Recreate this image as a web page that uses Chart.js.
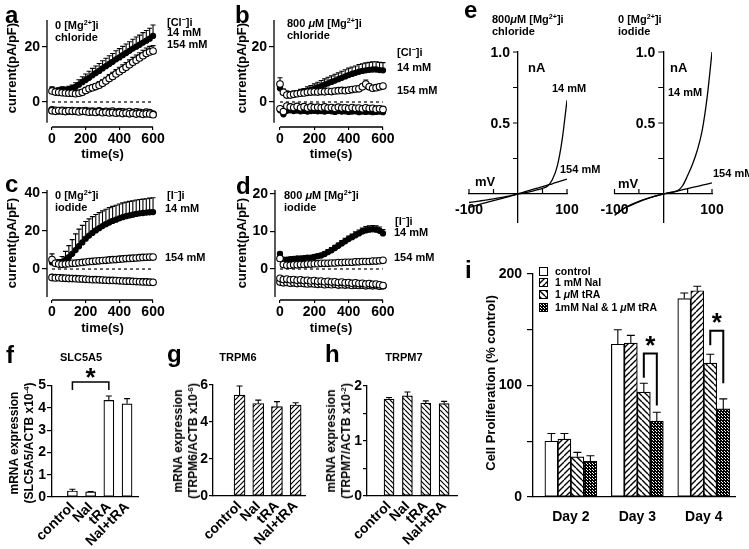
<!DOCTYPE html>
<html>
<head>
<meta charset="utf-8">
<script src="https://cdn.jsdelivr.net/npm/chart.js@4.4.0/dist/chart.umd.min.js"></script>
<style>
  html, body { margin: 0; padding: 0; background: #fff; }
  #fig { position: relative; width: 749px; height: 549px; overflow: hidden; background: #fff;
         font-family: 'Liberation Sans', Arial, sans-serif; color: #000; }
  #fig canvas { position: absolute; left: 0; top: 0; }
  .t { position: absolute; white-space: nowrap; line-height: 1; }
  .t sup { font-size: 0.65em; vertical-align: 0; position: relative; top: -0.55em; line-height: 0; }
  .letter { font-size: 24px; font-weight: bold; line-height: 24px; }
  .ann { font-size: 11px; font-weight: bold; }
  .unit { font-size: 13px; font-weight: bold; }
  .ttl { font-size: 13px; font-weight: bold; }
  .ttl2 { font-size: 12px; font-weight: bold; line-height: 15px; text-align: center; }
  .gene { font-size: 11px; font-weight: bold; }
  .leg { font-size: 10.5px; font-weight: bold; }
</style>
</head>
<body>
<div id="fig"></div>
<script>
// ---------- data ----------
const times = [0, 20, 40, 60, 80, 100, 120, 140, 160, 180, 200, 220, 240, 260, 280, 300,
               320, 340, 360, 380, 400, 420, 440, 460, 480, 500, 520, 540, 560, 580, 600];
const timeTicks = [0, 200, 400, 600];

// a: 0 [Mg2+]i, chloride
const aCl14 = [4.5, 4.0, 4.2, 4.5, 4.3, 4.6, 5.0, 5.5, 6.3, 7.2, 8.0, 8.8, 9.7, 10.5, 11.3, 12.2,
               13.0, 13.8, 14.6, 15.5, 16.2, 17.0, 17.8, 18.6, 19.4, 20.1, 20.8, 21.6, 22.3, 23.0, 24.0];
const aCl14Err = [1.0, 1.0, 1.0, 1.0, 1.1, 1.1, 1.2, 1.5, 1.8, 2.0, 2.2, 2.4, 2.5, 2.6, 2.7, 2.8,
                  2.9, 3.0, 3.0, 3.1, 3.2, 3.2, 3.3, 3.3, 3.4, 3.5, 3.5, 3.6, 3.7, 3.8, 4.0];
const aCl154 = [4.0, 3.6, 3.5, 3.4, 3.3, 3.2, 3.2, 3.0, 3.2, 3.5, 4.2, 4.8, 5.2, 5.6, 6.1, 6.8,
                7.6, 8.5, 9.3, 10.2, 11.0, 11.8, 12.6, 13.5, 14.4, 15.2, 16.0, 16.8, 17.6, 18.2, 18.5];
const aCl154Err = [1.0, 0.8, 0.8, 0.8, 0.8, 0.8, 0.8, 0.8, 0.8, 0.9, 1.0, 1.0, 1.0, 1.1, 1.2, 1.3,
                   1.4, 1.5, 1.5, 1.6, 1.6, 1.7, 1.7, 1.8, 1.8, 1.9, 1.9, 2.0, 2.0, 2.0, 2.0];
const aClIn1 = [-3.2, -3.4, -3.1, -3.3, -3.5, -3.2, -3.4, -3.3, -3.6, -3.4, -3.5, -3.7, -3.6, -3.8, -3.5, -3.9,
                -3.7, -4.0, -3.8, -4.1, -3.9, -4.2, -4.0, -4.3, -4.1, -4.4, -4.2, -4.5, -4.3, -4.4, -4.6];
const aClIn2 = [-2.9, -3.0, -3.2, -3.0, -3.1, -3.3, -3.1, -3.4, -3.2, -3.3, -3.1, -3.4, -3.3, -3.5, -3.2, -3.6,
                -3.4, -3.5, -3.3, -3.7, -3.5, -3.6, -3.8, -3.5, -3.9, -3.6, -3.8, -4.0, -3.7, -3.9, -4.4];

// b: 800 uM [Mg2+]i, chloride
const bCl14 = [5.0, 3.5, 3.0, 2.8, 3.0, 3.2, 3.4, 3.6, 4.0, 4.4, 4.8, 5.3, 5.8, 6.3, 6.8, 7.3,
               7.8, 8.3, 8.8, 9.3, 9.8, 10.2, 10.6, 11.0, 11.3, 11.5, 11.7, 11.8, 11.8, 11.6, 11.5];
const bCl14Err = [1.5, 1.2, 1.0, 1.0, 1.0, 1.0, 1.2, 1.3, 1.5, 1.6, 1.8, 1.9, 2.0, 2.1, 2.2, 2.2,
                  2.3, 2.3, 2.4, 2.4, 2.5, 2.5, 2.5, 2.6, 2.6, 2.7, 2.7, 2.8, 2.8, 2.8, 2.8];
const bCl154 = [6.5, 3.5, 2.5, 2.5, 2.8, 3.0, 3.2, 3.3, 3.5, 3.6, 3.7, 3.6, 3.8, 3.7, 3.9, 3.8,
                4.0, 4.1, 4.2, 4.1, 4.3, 4.5, 4.7, 4.8, 5.5, 6.5, 5.5, 5.0, 5.2, 5.5, 5.8];
const bCl154Err = [2.3, 1.0, 0.8, 0.7, 0.7, 0.7, 0.7, 0.7, 0.7, 0.7, 0.7, 0.7, 0.7, 0.7, 0.7, 0.7,
                   0.7, 0.7, 0.8, 0.8, 0.8, 0.8, 0.9, 0.9, 1.0, 1.5, 1.0, 0.8, 0.8, 0.8, 0.8];
const bClIn1 = [-2.5, -3.5, -1.5, -1.8, -2.0, -1.6, -2.1, -1.7, -2.2, -1.8, -2.0, -1.9, -2.1, -1.8, -2.2, -2.0,
                -2.3, -1.9, -2.2, -2.1, -2.4, -2.0, -2.3, -2.2, -2.5, -2.1, -2.4, -2.3, -2.6, -2.5, -2.7];
const bClIn2 = [-3.0, -4.5, -3.2, -3.0, -3.3, -3.1, -3.4, -3.2, -3.5, -3.3, -3.2, -3.4, -3.3, -3.5, -3.2, -3.4,
                -3.6, -3.3, -3.5, -3.4, -3.6, -3.5, -3.4, -3.7, -3.5, -3.6, -3.5, -3.7, -3.6, -3.5, -3.7];

// c: 0 [Mg2+]i, iodide
const cI14 = [3.5, 3.0, 3.0, 3.6, 4.8, 6.3, 8.0, 10.0, 12.0, 14.0, 16.0, 17.6, 19.0, 20.3, 21.5, 22.6,
              23.6, 24.5, 25.3, 26.0, 26.7, 27.3, 27.8, 28.2, 28.6, 29.0, 29.3, 29.5, 29.7, 29.9, 30.0];
const cI14Err = [1.0, 1.5, 2.0, 3.0, 4.5, 6.0, 7.5, 8.5, 9.0, 9.0, 9.0, 8.8, 8.6, 8.4, 8.2, 8.0,
                 7.9, 7.8, 7.7, 7.6, 7.5, 7.5, 7.4, 7.4, 7.3, 7.3, 7.3, 7.3, 7.3, 7.4, 7.5];
const cI154 = [5.0, 3.0, 2.6, 2.5, 2.6, 2.8, 3.0, 3.1, 3.3, 3.5, 3.7, 3.9, 4.0, 4.2, 4.3, 4.5,
               4.6, 4.8, 4.9, 5.0, 5.2, 5.3, 5.5, 5.6, 5.7, 5.8, 6.0, 6.1, 6.2, 6.3, 6.3];
const cI154Err = [3.0, 0.8, 0.6, 0.6, 0.6, 0.6, 0.6, 0.6, 0.6, 0.6, 0.7, 0.7, 0.7, 0.7, 0.7, 0.7,
                  0.8, 0.8, 0.8, 0.8, 0.8, 0.8, 0.9, 0.9, 0.9, 0.9, 0.9, 1.0, 1.0, 1.0, 1.0];
const cIIn1 = [-4.0, -4.2, -4.3, -4.4, -4.5, -4.6, -4.7, -4.8, -4.9, -5.0, -5.1, -5.2, -5.3, -5.4, -5.5, -5.6,
               -5.7, -5.8, -5.9, -6.0, -6.0, -6.1, -6.2, -6.3, -6.4, -6.5, -6.5, -6.6, -6.7, -6.8, -6.8];
const cIIn2 = [-4.5, -4.7, -4.6, -4.8, -4.9, -5.0, -5.0, -5.1, -5.2, -5.3, -5.4, -5.5, -5.6, -5.6, -5.7, -5.8,
               -5.9, -6.0, -6.0, -6.1, -6.2, -6.3, -6.4, -6.4, -6.5, -6.6, -6.7, -6.8, -6.8, -6.9, -7.0];

// d: 800 uM [Mg2+]i, iodide
const dI14 = [4.0, 2.5, 2.5, 2.6, 2.7, 2.8, 2.8, 2.9, 3.0, 3.0, 3.2, 3.4, 3.6, 4.0, 4.5, 5.0,
              5.6, 6.2, 6.8, 7.4, 8.0, 8.5, 9.0, 9.5, 10.0, 10.3, 10.5, 10.6, 10.5, 10.2, 9.5];
const dI14Err = [0.5, 0.5, 0.5, 0.5, 0.5, 0.5, 0.5, 0.5, 0.5, 0.5, 0.6, 0.6, 0.6, 0.6, 0.7, 0.7,
                 0.7, 0.7, 0.8, 0.8, 0.8, 0.8, 0.9, 0.9, 0.9, 1.0, 1.0, 1.0, 1.0, 1.0, 1.0];
const dI154 = [2.8, 1.2, 1.0, 1.0, 1.1, 1.1, 1.2, 1.2, 1.3, 1.3, 1.4, 1.4, 1.5, 1.5, 1.5, 1.6,
               1.6, 1.7, 1.7, 1.8, 1.8, 1.8, 1.9, 1.9, 2.0, 2.0, 2.0, 2.1, 2.1, 2.2, 2.3];
const dIIn1 = [-2.5, -2.8, -2.7, -2.9, -2.8, -3.0, -2.9, -3.1, -3.0, -3.2, -3.1, -3.3, -3.2, -3.4, -3.3, -3.5,
               -3.4, -3.6, -3.5, -3.7, -3.6, -3.8, -3.7, -3.9, -3.8, -4.0, -3.9, -4.1, -4.0, -4.2, -4.4];
const dIIn2 = [-3.5, -3.7, -3.6, -3.8, -3.7, -3.9, -3.8, -3.9, -4.0, -3.9, -4.0, -4.1, -4.0, -4.2, -4.1, -4.2,
               -4.1, -4.3, -4.2, -4.3, -4.2, -4.4, -4.3, -4.4, -4.3, -4.5, -4.4, -4.5, -4.4, -4.6, -4.5];

// e: I-V curves (mV, nA)
const mv = [-100, -90, -80, -70, -60, -50, -40, -30, -20, -10, 0, 10, 20, 30, 40, 50, 60, 70, 80, 90, 100];
const eCl14 = [-0.060, -0.055, -0.050, -0.045, -0.040, -0.034, -0.028, -0.022, -0.015, -0.008, 0.000,
               0.006, 0.013, 0.020, 0.030, 0.040, 0.055, 0.100, 0.195, 0.380, 0.660];
const eCl154 = [-0.095, -0.085, -0.075, -0.065, -0.056, -0.047, -0.038, -0.029, -0.020, -0.010, 0.002,
                0.012, 0.022, 0.032, 0.042, 0.052, 0.062, 0.072, 0.083, 0.094, 0.105];
const eI14 = [-0.150, -0.125, -0.100, -0.082, -0.066, -0.052, -0.040, -0.029, -0.019, -0.009, 0.000,
              0.007, 0.014, 0.024, 0.060, 0.130, 0.210, 0.310, 0.450, 0.680, 1.000];
const eI154 = [-0.150, -0.125, -0.100, -0.085, -0.070, -0.055, -0.041, -0.029, -0.018, -0.008, 0.000,
               0.008, 0.015, 0.022, 0.030, 0.038, 0.046, 0.054, 0.062, 0.070, 0.078];
const ivXTicks = [-100, -50, 50, 100];
const ivYTicks = [0.25, 0.5, 0.75, 1.0];

// f, g, h: mRNA expression
const treatments = ['control', 'NaI', 'tRA', 'NaI+tRA'];
const treatmentPos = [1, 2, 3, 4];
const fVals = [0.27, 0.23, 4.33, 4.18];
const fErr = [0.08, 0.02, 0.20, 0.23];
const gVals = [5.45, 5.00, 4.83, 4.92];
const gErr = [0.50, 0.18, 0.27, 0.12];
const hVals = [1.76, 1.82, 1.69, 1.68];
const hErr = [0.03, 0.07, 0.04, 0.04];
const fTicks = [0, 1, 2, 3, 4, 5];
const gTicks = [0, 2, 4, 6];
const hTicks = [0, 0.5, 1, 1.5, 2];

// i: cell proliferation
const days = ['Day 2', 'Day 3', 'Day 4'];
const dayPos = [2, 3, 4];
const iNames = ['control', '1 mM NaI', '1 μM tRA', '1mM NaI & 1 μM tRA'];
const iControl = [50, 137, 178];
const iControlErr = [7, 13, 5];
const iNaI = [52, 138, 185];
const iNaIErr = [5, 7, 4];
const iTRA = [36, 94, 120];
const iTRAErr = [4, 8, 8];
const iCombo = [32, 68, 79];
const iComboErr = [5, 8, 9];
const iTicks = [0, 50, 100, 150, 200];

// ---------- page setup ----------
const W = 749, H = 549;
const FONT = "'Liberation Sans', Arial, sans-serif";
const fig = document.getElementById('fig');

Chart.defaults.font.family = FONT;
Chart.defaults.font.size = 14;
Chart.defaults.font.weight = 'bold';
Chart.defaults.color = '#000';
Chart.defaults.animation = false;
Chart.defaults.responsive = false;
Chart.defaults.events = [];
Chart.defaults.plugins.legend.display = false;
Chart.defaults.plugins.tooltip.enabled = false;

function addCanvas() {
  const c = document.createElement('canvas');
  c.width = W; c.height = H;
  fig.appendChild(c);
  return c.getContext('2d');
}

// layout padding so that the chart area lands on a given pixel box
function pad(area, yW, xH) {
  return {left: area.l - yW, top: area.t, right: W - area.r, bottom: H - area.b - xH};
}

// ---------- plugins ----------
const errorBars = {
  id: 'errorBars',
  beforeDatasetsDraw(chart, args, o) {
    const ctx = chart.ctx, y = chart.scales.y;
    ctx.save();
    ctx.strokeStyle = '#000';
    ctx.lineWidth = o.width || 1.1;
    chart.data.datasets.forEach((ds, i) => {
      if (!ds.err) return;
      chart.getDatasetMeta(i).data.forEach((el, j) => {
        const top = y.getPixelForValue(ds.data[j].y + ds.err[j]);
        ctx.beginPath();
        ctx.moveTo(el.x, el.y);
        ctx.lineTo(el.x, top);
        ctx.moveTo(el.x - o.cap, top);
        ctx.lineTo(el.x + o.cap, top);
        ctx.stroke();
      });
    });
    ctx.restore();
  }
};

const zeroLine = {
  id: 'zeroLine',
  beforeDatasetsDraw(chart, args, o) {
    const {x, y} = chart.scales, ctx = chart.ctx;
    const py = y.getPixelForValue(0);
    ctx.save();
    ctx.strokeStyle = '#000';
    ctx.lineWidth = 1.2;
    ctx.setLineDash([3, 3]);
    ctx.beginPath();
    ctx.moveTo(x.getPixelForValue(o.from), py);
    ctx.lineTo(x.getPixelForValue(o.to), py);
    ctx.stroke();
    ctx.restore();
  }
};

// detached axis lines (Igor style)
const axisLines = {
  id: 'axisLines',
  afterDraw(chart, args, o) {
    const {x, y} = chart.scales, a = chart.chartArea, ctx = chart.ctx;
    ctx.save();
    ctx.strokeStyle = '#000';
    ctx.lineWidth = 1.3;
    ctx.beginPath();
    ctx.moveTo(a.left, y.getPixelForValue(o.y[0]));
    ctx.lineTo(a.left, y.getPixelForValue(o.y[1]));
    ctx.moveTo(x.getPixelForValue(o.x[0]), a.bottom);
    ctx.lineTo(x.getPixelForValue(o.x[1]), a.bottom);
    ctx.stroke();
    ctx.restore();
  }
};

// ticks and current labels for the crossing I-V axes:
// voltage ticks point up, current ticks point left with their labels beside them
const ivTicks = {
  id: 'ivTicks',
  afterDraw(chart, args, o) {
    const {x, y} = chart.scales, ctx = chart.ctx;
    const py = y.getPixelForValue(0), px0 = x.getPixelForValue(0);
    ctx.save();
    ctx.strokeStyle = '#000';
    ctx.fillStyle = '#000';
    ctx.lineWidth = 1.2;
    ctx.beginPath();
    o.x.forEach(v => {
      const px = x.getPixelForValue(v);
      ctx.moveTo(px, py);
      ctx.lineTo(px, py - o.len);
    });
    o.y.forEach(v => {
      const p = y.getPixelForValue(v);
      ctx.moveTo(px0, p);
      ctx.lineTo(px0 - o.len, p);
    });
    ctx.stroke();
    ctx.font = 'bold 14px ' + FONT;
    ctx.textAlign = 'right';
    ctx.textBaseline = 'middle';
    o.y.forEach(v => {
      const label = o.label(v);
      if (label) ctx.fillText(label, px0 - o.len - 3, y.getPixelForValue(v) + 1);
    });
    ctx.restore();
  }
};

const brackets = {
  id: 'brackets',
  afterDatasetsDraw(chart, args, o) {
    if (!o.items || !o.items.length) return;
    const ctx = chart.ctx, y = chart.scales.y;
    ctx.save();
    ctx.strokeStyle = '#000';
    ctx.fillStyle = '#000';
    ctx.lineWidth = o.width || 1.6;
    o.items.forEach(b => {
      const p1 = chart.getDatasetMeta(b.from[0]).data[b.from[1]];
      const p2 = chart.getDatasetMeta(b.to[0]).data[b.to[1]];
      const top = y.getPixelForValue(b.top);
      ctx.beginPath();
      ctx.moveTo(p1.x, y.getPixelForValue(b.legs[0]));
      ctx.lineTo(p1.x, top);
      ctx.lineTo(p2.x, top);
      ctx.lineTo(p2.x, y.getPixelForValue(b.legs[1]));
      ctx.stroke();
      ctx.font = 'bold 26px ' + FONT;
      ctx.textAlign = 'center';
      ctx.textBaseline = 'middle';
      ctx.fillText('*', (p1.x + p2.x) / 2, y.getPixelForValue(b.star) + 6);
    });
    ctx.restore();
  }
};

// ---------- fill patterns ----------
function hatch(size, dir, lw) {
  const c = document.createElement('canvas');
  c.width = c.height = size;
  const g = c.getContext('2d');
  g.fillStyle = '#fff';
  g.fillRect(0, 0, size, size);
  g.strokeStyle = '#000';
  g.lineWidth = lw;
  g.beginPath();
  for (let k = -1; k <= 1; k++) {
    if (dir === '/') { g.moveTo(k * size, size); g.lineTo(k * size + size, 0); }
    else { g.moveTo(k * size, 0); g.lineTo(k * size + size, size); }
  }
  g.stroke();
  return g.createPattern(c, 'repeat');
}
function checker() {
  const c = document.createElement('canvas');
  c.width = c.height = 3;
  const g = c.getContext('2d');
  g.fillStyle = '#000';
  g.fillRect(0, 0, 3, 3);
  g.fillStyle = '#fff';
  g.fillRect(1, 1, 1, 1);
  g.fillRect(2, 2, 1, 1);
  return g.createPattern(c, 'repeat');
}

// ---------- chart builders ----------
function timeChart(p) {
  const sets = p.series.map(s => ({
    data: times.map((t, i) => ({x: t, y: s.vals[i]})),
    err: s.err || null,
    pointRadius: s.filled ? 2.6 : 3.3,
    pointBorderWidth: 1.1,
    pointBackgroundColor: s.filled ? '#000' : '#fff',
    borderColor: '#000',
    clip: false
  }));
  new Chart(addCanvas(), {
    type: 'scatter',
    data: {datasets: sets},
    options: {
      devicePixelRatio: 1,
      layout: {padding: pad(p.area, 40, 40)},
      scales: {
        x: {
          type: 'linear', min: p.x[0], max: p.x[1],
          afterFit: s => { s.height = 40; },
          afterBuildTicks: s => { s.ticks = timeTicks.map(v => ({value: v})); },
          grid: {drawOnChartArea: false, tickLength: 3, color: '#000', lineWidth: 1.2},
          border: {display: false},
          ticks: {padding: 1, maxRotation: 0, autoSkip: false}
        },
        y: {
          type: 'linear', min: p.y[0], max: p.y[1],
          afterFit: s => { s.width = 40; },
          afterBuildTicks: s => { s.ticks = p.yTicks.map(v => ({value: v})); },
          grid: {drawOnChartArea: false, tickLength: 5, color: '#000', lineWidth: 1.2},
          border: {display: false},
          ticks: {padding: 2}
        }
      },
      plugins: {
        axisLines: {x: [0, 600], y: p.yLine},
        zeroLine: {from: 0, to: 600},
        errorBars: {cap: 2.5}
      }
    },
    plugins: [zeroLine, errorBars, axisLines]
  });
}

function ivChart(p) {
  new Chart(addCanvas(), {
    type: 'line',
    data: {
      datasets: p.curves.map(c => ({
        data: mv.map((v, i) => ({x: v, y: c[i]})),
        borderColor: '#000', borderWidth: 1.3, pointRadius: 0,
        cubicInterpolationMode: 'monotone', fill: false
      }))
    },
    options: {
      devicePixelRatio: 1,
      layout: {padding: pad(p.area, 0, 0)},
      scales: {
        x: {
          type: 'linear', position: {y: 0}, min: -100, max: 100,
          afterBuildTicks: s => { s.ticks = ivXTicks.map(v => ({value: v})); },
          grid: {display: false, drawTicks: false},
          border: {color: '#000', width: 1.3},
          ticks: {padding: 8, maxRotation: 0, autoSkip: false,
                  callback: v => Math.abs(v) === 100 ? String(v) : ''}
        },
        y: {
          type: 'linear', position: {x: 0}, min: -0.2, max: 1.0,
          afterBuildTicks: s => { s.ticks = ivYTicks.map(v => ({value: v})); },
          grid: {display: false, drawTicks: false},
          border: {color: '#000', width: 1.3},
          ticks: {display: false}
        }
      },
      plugins: {ivTicks: {x: ivXTicks, y: ivYTicks, len: 5,
                          label: v => (v === 0.5 || v === 1) ? v.toFixed(1) : ''}}
    },
    plugins: [ivTicks]
  });
}

function barChart(p) {
  new Chart(addCanvas(), {
    type: 'bar',
    data: {
      datasets: p.sets.map(s => ({
        data: p.xs.map((x, i) => ({x, y: s.vals[i]})),
        err: s.err,
        backgroundColor: s.fill,
        borderColor: '#000',
        borderWidth: 1.2,
        borderSkipped: false,
        barThickness: p.thick
      }))
    },
    options: {
      devicePixelRatio: 1,
      layout: {padding: pad(p.area, 40, 50)},
      scales: {
        x: {
          type: 'linear', offset: false, min: p.x[0], max: p.x[1],
          afterFit: s => { s.height = 50; },
          afterBuildTicks: s => { s.ticks = p.xs.map(v => ({value: v})); },
          grid: {display: false, drawTicks: false, offset: false},
          border: {display: true, color: '#000', width: 1.3},
          ticks: {callback: (v, i) => p.labels[i], minRotation: p.rot, maxRotation: p.rot,
                  padding: p.xPad, autoSkip: false}
        },
        y: {
          type: 'linear', min: p.y[0], max: p.y[1],
          afterFit: s => { s.width = 40; },
          afterBuildTicks: s => { s.ticks = p.yTicks.map(v => ({value: v})); },
          grid: {drawOnChartArea: false, tickLength: p.tl, color: '#000', lineWidth: 1.2},
          border: {display: true, color: '#000', width: 1.3},
          ticks: {padding: p.yPad, callback: p.yLabel || (v => String(v))}
        }
      },
      plugins: {
        errorBars: {cap: p.cap},
        brackets: {items: p.brackets || [], width: p.bracketWidth}
      }
    },
    plugins: [errorBars, brackets]
  });
}

// ---------- panels a-d ----------
timeChart({area: {l: 47, r: 156.4, t: 20, b: 127}, x: [-29.7, 620], y: [-9.09, 29.8],
  yTicks: [0, 20], yLine: [-7.5, 29.8],
  series: [{vals: aClIn1}, {vals: aClIn2}, {vals: aCl154, err: aCl154Err},
           {vals: aCl14, err: aCl14Err, filled: true}]});
timeChart({area: {l: 274, r: 386.4, t: 20, b: 127}, x: [-35, 620], y: [-9.09, 29.8],
  yTicks: [0, 20], yLine: [-7.5, 29.8],
  series: [{vals: bClIn1}, {vals: bClIn2, filled: true}, {vals: bCl154, err: bCl154Err},
           {vals: bCl14, err: bCl14Err, filled: true}]});
timeChart({area: {l: 47, r: 156.4, t: 190, b: 300}, x: [-29.7, 620], y: [-16.3, 41.6],
  yTicks: [0, 20, 40], yLine: [-14.7, 41.6],
  series: [{vals: cIIn2}, {vals: cIIn1, filled: true}, {vals: cI154, err: cI154Err},
           {vals: cI14, err: cI14Err, filled: true}]});
timeChart({area: {l: 275, r: 386.4, t: 190, b: 300}, x: [-29, 620], y: [-8.27, 21.07],
  yTicks: [0, 10, 20], yLine: [-7.5, 21.07],
  series: [{vals: dIIn1}, {vals: dIIn2}, {vals: dI154},
           {vals: dI14, err: dI14Err, filled: true}]});

// ---------- panel e ----------
ivChart({area: {l: 469, r: 567, t: 52, b: 222.4}, curves: [eCl14, eCl154]});
ivChart({area: {l: 614.5, r: 712, t: 52, b: 222.4}, curves: [eI14, eI154]});

// ---------- panels f-h ----------
const pSlash5 = hatch(5, '/', 1.2);
const pBack5 = hatch(5, '\\', 1.2);
barChart({area: {l: 52, r: 138, t: 385.5, b: 497}, x: [-0.12, 4.6], y: [0, 5],
  xs: treatmentPos, labels: treatments, rot: 45, xPad: 2, yTicks: fTicks, tl: 5, yPad: 1,
  thick: 10, cap: 3, sets: [{vals: fVals, err: fErr, fill: '#fff'}],
  brackets: [{from: [0, 0], to: [0, 2], top: 5.16, legs: [4.8, 4.8], star: 5.56}], bracketWidth: 1.5});
barChart({area: {l: 213, r: 305, t: 385, b: 496}, x: [-0.42, 4.5], y: [0, 6],
  xs: treatmentPos, labels: treatments, rot: 45, xPad: 2, yTicks: gTicks, tl: 4, yPad: 1,
  thick: 11, cap: 3, sets: [{vals: gVals, err: gErr, fill: pSlash5}]});
barChart({area: {l: 367, r: 457, t: 386, b: 496}, x: [-0.2, 4.7], y: [0, 2],
  xs: treatmentPos, labels: treatments, rot: 45, xPad: 2, yTicks: hTicks, tl: 4, yPad: 1,
  thick: 10, cap: 3, sets: [{vals: hVals, err: hErr, fill: pBack5}],
  yLabel: v => Number.isInteger(v) ? String(v) : ''});

// ---------- panel i ----------
const pSlash6 = hatch(6, '/', 1.4);
const pBack6 = hatch(6, '\\', 1.4);
const pCheck = checker();
const iFills = ['#fff', pSlash6, pBack6, pCheck];
barChart({area: {l: 533, r: 735, t: 274, b: 497}, x: [1.43, 4.47], y: [0, 200],
  xs: dayPos, labels: days, rot: 0, xPad: 12, yTicks: iTicks, tl: 6, yPad: 5,
  thick: 13, cap: 4,
  sets: [{vals: iControl, err: iControlErr, fill: iFills[0]},
         {vals: iNaI, err: iNaIErr, fill: iFills[1]},
         {vals: iTRA, err: iTRAErr, fill: iFills[2]},
         {vals: iCombo, err: iComboErr, fill: iFills[3]}],
  yLabel: v => v % 100 === 0 ? String(v) : '',
  brackets: [{from: [2, 1], to: [3, 1], top: 128.6, legs: [107, 82], star: 140},
             {from: [2, 2], to: [3, 2], top: 149, legs: [136, 102], star: 161}],
  bracketWidth: 2});

// ---------- text ----------
function txt(html, x, y, cls, anchor) {
  const d = document.createElement('div');
  d.className = 't ' + cls;
  d.innerHTML = html;
  d.style.left = x + 'px';
  d.style.top = y + 'px';
  d.style.transform = anchor === 'c' ? 'translate(-50%,-50%)' : 'translateY(-50%)';
  fig.appendChild(d);
}
function vtxt(html, x, y, cls) {
  const d = document.createElement('div');
  d.className = 't ' + cls;
  d.innerHTML = html;
  d.style.left = x + 'px';
  d.style.top = y + 'px';
  d.style.transform = 'translate(-50%,-50%) rotate(-90deg)';
  fig.appendChild(d);
}
function letter(ch, x, base) {
  const d = document.createElement('div');
  d.className = 't letter';
  d.textContent = ch;
  d.style.left = x + 'px';
  d.style.top = (base - 20.3) + 'px';
  fig.appendChild(d);
}

[['a', 5, 23], ['b', 235, 23], ['c', 5, 192], ['d', 236, 194], ['e', 464, 18],
 ['f', 6, 363], ['g', 167, 362], ['h', 325, 362], ['i', 465, 278]]
  .forEach(l => letter(l[0], l[1], l[2]));

const mg0 = '0 [Mg<sup>2+</sup>]i';
const mg800 = '800 <i>μ</i>M [Mg<sup>2+</sup>]i';
const cl = '[Cl<sup>−</sup>]i', io = '[I<sup>−</sup>]i';

// a
txt(mg0, 55, 25, 'ann'); txt('chloride', 55, 37, 'ann');
txt(cl, 167, 22, 'ann'); txt('14 mM', 167, 32, 'ann'); txt('154 mM', 167, 44, 'ann');
// b
txt(mg800, 287, 23, 'ann'); txt('chloride', 287, 35, 'ann');
txt(cl, 397, 52, 'ann'); txt('14 mM', 397, 67, 'ann'); txt('154 mM', 397, 90, 'ann');
// c
txt(mg0, 55, 195, 'ann'); txt('iodide', 55, 207, 'ann');
txt(io, 167, 195, 'ann'); txt('14 mM', 165, 208, 'ann'); txt('154 mM', 165, 257, 'ann');
// d
txt(mg800, 284, 195, 'ann'); txt('iodide', 284, 207, 'ann');
txt(io, 395, 221, 'ann'); txt('14 mM', 394, 232, 'ann'); txt('154 mM', 394, 257, 'ann');
// axis titles a-d
[[102.5, 153], [331, 153], [102.5, 327], [331, 327]].forEach(p => txt('time(s)', p[0], p[1], 'ttl', 'c'));
[[11, 68], [241, 68], [11, 243], [241, 243]].forEach(p => vtxt('current(pA/pF)', p[0], p[1], 'ttl'));
// e
txt('800<i>μ</i>M [Mg<sup>2+</sup>]i', 492, 19, 'ann'); txt('chloride', 492, 31, 'ann');
txt('nA', 528, 67, 'unit'); txt('14 mM', 552, 88, 'ann'); txt('154 mM', 560, 169, 'ann');
txt('mV', 475, 181, 'unit');
txt(mg0, 618, 19, 'ann'); txt('iodide', 618, 31, 'ann');
txt('nA', 670, 67, 'unit'); txt('14 mM', 668, 92, 'ann'); txt('154 mM', 713, 173, 'ann');
txt('mV', 618, 183, 'unit');
// f-h
txt('SLC5A5', 81, 357, 'gene', 'c'); txt('TRPM6', 238, 357, 'gene', 'c'); txt('TRPM7', 404, 357, 'gene', 'c');
vtxt('mRNA expression<br>(SLC5A5/ACTB x10<sup>-4</sup>)', 21.5, 443, 'ttl2');
vtxt('mRNA expression<br>(TRPM6/ACTB x10<sup>-6</sup>)', 185.5, 441, 'ttl2');
vtxt('mRNA expression<br>(TRPM7/ACTB x10<sup>-2</sup>)', 339, 441, 'ttl2');
// i
vtxt('Cell Proliferation (% control)', 490, 383, 'ttl');
const legRows = [271, 282, 294, 307];
iNames.forEach((name, k) => {
  const c = document.createElement('canvas');
  c.width = 9; c.height = 9;
  c.style.left = '539px';
  c.style.top = (legRows[k] - 4.5) + 'px';
  const g = c.getContext('2d');
  g.fillStyle = iFills[k];
  g.fillRect(0, 0, 9, 9);
  g.strokeStyle = '#000';
  g.lineWidth = 1;
  g.strokeRect(0.5, 0.5, 8, 8);
  fig.appendChild(c);
  txt(name.replace(/μ/g, '<i>μ</i>').replace('&', '&amp;'), 555, legRows[k], 'leg');
});
</script>
</body>
</html>
